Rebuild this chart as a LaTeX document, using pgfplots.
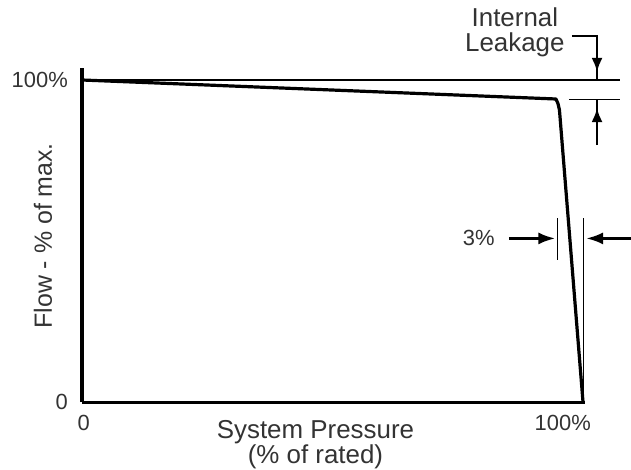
\documentclass[border=0pt]{standalone}
\usepackage{fontspec}
\setmainfont{Liberation Sans}
\usepackage{pgfplots}
\pgfplotsset{compat=1.18}
\usetikzlibrary{arrows.meta}
\definecolor{txt}{gray}{0.2}
\begin{document}
\begin{tikzpicture}
\useasboundingbox (-82bp,-68bp) rectangle (549bp,402bp);
\begin{axis}[
 at={(0,0)}, anchor=south west,
 x=5.01bp, y=3.22bp,
 xmin=0, xmax=100.4, ymin=0, ymax=103.7,
 enlargelimits=false,
 axis lines=left,
 axis line style={-, line width=3bp, black},
 xtick={0,100}, xticklabels={0,100\%},
 ytick={0,100}, yticklabels={0,100\%},
 major tick length=0pt,
 tick style={draw=none},
 xticklabel style={anchor=north east, inner sep=0pt, xshift=8bp, yshift=-13bp, font=\fontsize{22}{24}\selectfont, text=txt},
 yticklabel style={anchor=east, inner sep=0pt, xshift=-14bp, font=\fontsize{22}{24}\selectfont, text=txt},
 xlabel={System Pressure\\(\% of rated)},
 xlabel style={at={(axis cs:46.6,-5.7)}, anchor=north, align=center, inner sep=0pt, font=\fontsize{26}{20.5}\selectfont, text=txt},
 ylabel={Flow - \% of max.},
 ylabel style={at={(axis cs:-7.8,51.6)}, anchor=center, inner sep=0pt, font=\fontsize{25}{26}\selectfont, text=txt},
 clip=false,
]
\addplot[line width=3.2bp, line join=round] coordinates {(0,100) (94.6,94.1) (95.0,92.7) (95.3,90.7) (100,0)};

\draw[line width=1.5bp] (axis cs:0,100) -- (axis cs:107.4,100);
\draw[line width=1.5bp] (axis cs:97.2,93.9) -- (axis cs:107.4,93.9);
\draw[line width=2.5bp] (axis cs:97.8,113.7) -- (axis cs:102.8,113.7) -- (axis cs:102.8,100);
\draw[line width=2.5bp, -{Latex[length=14bp,width=11bp]}] (axis cs:102.8,109) -- (axis cs:102.8,102.5);
\draw[line width=2.5bp] (axis cs:102.8,79.8) -- (axis cs:102.8,93.9);
\draw[line width=2.5bp, -{Latex[length=14bp,width=11bp]}] (axis cs:102.8,84) -- (axis cs:102.8,91.3);

\node[font=\fontsize{22}{24}\selectfont, text=txt, inner sep=0pt] at (axis cs:79.2,50.8) {3\%};
\draw[line width=3bp, -{Latex[length=17bp,width=12bp]}] (axis cs:85.2,50.8) -- (axis cs:94.5,50.8);
\draw[line width=1.3bp] (axis cs:94.9,57.1) -- (axis cs:94.9,44.1);
\draw[line width=1.3bp] (axis cs:100.1,57.1) -- (axis cs:100.1,0);
\draw[line width=3bp, -{Latex[length=17bp,width=12bp]}] (axis cs:109.6,50.8) -- (axis cs:100.6,50.8);

\node[anchor=north, align=center, inner sep=0pt, font=\fontsize{26}{25}\selectfont, text=txt] at (axis cs:86.4,122.4) {Internal\\Leakage};
\end{axis}
\end{tikzpicture}
\end{document}
